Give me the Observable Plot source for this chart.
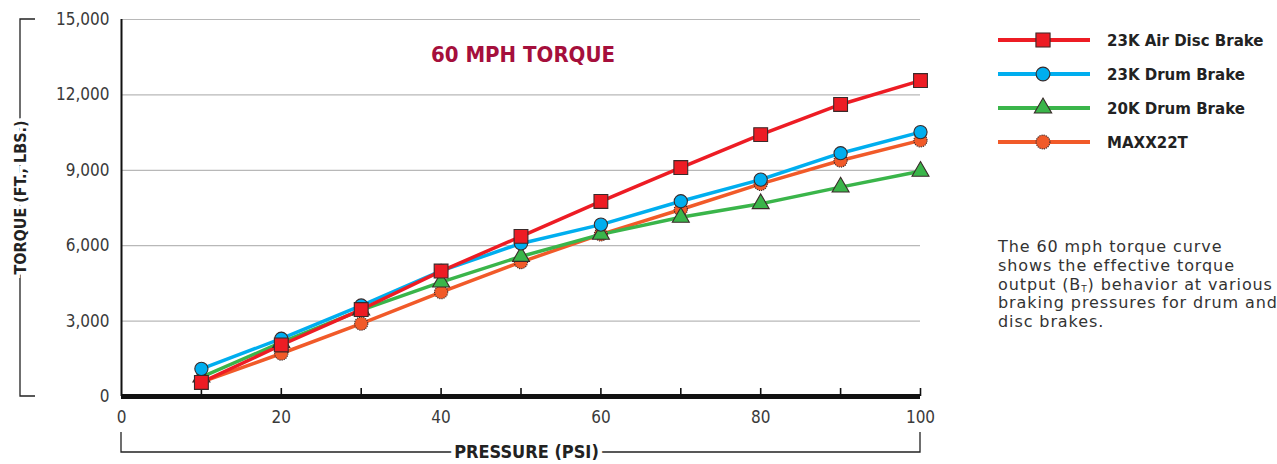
<!DOCTYPE html>
<html>
<head>
<meta charset="utf-8">
<script src="https://cdn.jsdelivr.net/npm/d3@7"></script>
<script src="https://cdn.jsdelivr.net/npm/@observablehq/plot@0.6"></script>
<style>
  html, body { margin: 0; padding: 0; background: #fff; }
  #wrap { position: relative; width: 1277px; height: 464px; overflow: hidden; }
  #chart { position: absolute; left: 0; top: 0; }
  #legend { position: absolute; left: 990px; top: 20px; }
  #note { position: absolute; left: 998px; top: 238px; width: 400px; font-family: "DejaVu Sans", Lato, sans-serif; font-size: 16px; letter-spacing: 0.9px; line-height: 18.8px; color: #333; white-space: nowrap; }
</style>
</head>
<body>
<div id="wrap">
  <div id="chart"></div>
  <div id="legend"></div>
  <div id="note">The 60 mph torque curve<br>shows the effective torque<br>output (B<sub style="font-size:9px;line-height:0;vertical-align:-2px">T</sub>) behavior at various<br>braking pressures for drum and<br>disc brakes.</div>
</div>
<script>
// ---- data ----
const pressure = [10, 20, 30, 40, 50, 60, 70, 80, 90, 100];
const airDisc23K = [560, 2050, 3460, 4990, 6370, 7760, 9110, 10420, 11620, 12570];
const drum23K = [1100, 2300, 3620, 5000, 6090, 6840, 7770, 8630, 9680, 10520];
const drum20K = [770, 2150, 3440, 4550, 5570, 6450, 7130, 7670, 8330, 8960];
const maxx22T = [570, 1710, 2900, 4150, 5350, 6450, 7440, 8460, 9390, 10190];
const seriesNames = ["23K Air Disc Brake", "23K Drum Brake", "20K Drum Brake", "MAXX22T"];
const seriesColors = ["#ed1c24", "#00aeef", "#3ab54a", "#f15a29"];
const seriesSymbols = ["square", "circle", "triangle", "circle"];
const yTicks = [0, 3000, 6000, 9000, 12000, 15000];
const xLabelTicks = [0, 20, 40, 60, 80, 100];
const xMarkTicks = [10, 20, 30, 40, 50, 60, 70, 80, 90, 100];
const title = "60 MPH TORQUE";
const yLabel = "TORQUE (FT., LBS.)";
const xLabel = "PRESSURE (PSI)";

const seriesValues = [airDisc23K, drum23K, drum20K, maxx22T];
const rows = [];
seriesNames.forEach((name, i) => pressure.forEach((p, j) => rows.push({series: name, idx: i, pressure: p, torque: seriesValues[i][j]})));
// draw order: orange, green, blue, red (red on top)
const drawOrder = [3, 2, 1, 0];

const fontCond = '"Liberation Sans Narrow", "DejaVu Sans Condensed", "Liberation Sans", sans-serif';
const symR = {square: 7.8, triangle: 6.3, circle: 6.6};

const marks = [
  Plot.gridY(yTicks.filter(d => d > 0), {stroke: "#b8b8b8", strokeOpacity: 1, strokeWidth: 1.2}),
  Plot.axisY(yTicks, {tickSize: 0, tickPadding: 12, tickFormat: d3.format(","), fontSize: 17, fill: "#3a3a3a", label: null}),
  Plot.axisX(xLabelTicks, {tickSize: 0, tickPadding: 14, fontSize: 17, fill: "#3a3a3a", label: null}),
  Plot.axisX(xMarkTicks, {tickSize: -8, tickFormat: () => "", label: null, stroke: "#111", strokeWidth: 1.6}),
  Plot.ruleX([0], {stroke: "#111", strokeWidth: 2}),
  Plot.ruleY([0], {stroke: "#111", strokeWidth: 5}),
];
for (const i of drawOrder) {
  const data = rows.filter(r => r.idx === i);
  marks.push(Plot.line(data, {x: "pressure", y: "torque", stroke: seriesColors[i], strokeWidth: 3.5}));
}
for (const i of drawOrder) {
  const data = rows.filter(r => r.idx === i);
  const sym = seriesSymbols[i];
  marks.push(Plot.dot(data, {x: "pressure", y: "torque", symbol: () => sym, r: symR[sym], fill: seriesColors[i], stroke: "#3a2a2a", strokeWidth: 1.1,
    strokeDasharray: i === 3 ? "1.2,1" : null}));
}
marks.push(Plot.text([title], {frameAnchor: "top", dy: 27, dx: 2, fontSize: 22, fontWeight: "bold", fill: "#a50f3c", fontFamily: fontCond}));

const chart = Plot.plot({
  width: 960, height: 464,
  marginLeft: 121, marginRight: 40, marginTop: 19, marginBottom: 68,
  style: {fontFamily: fontCond, background: "transparent", overflow: "visible"},
  x: {domain: [0, 100]},
  y: {domain: [0, 15000]},
  marks
});
document.getElementById("chart").appendChild(chart);

// axis title brackets, positioned from the scales
const sx = chart.scale("x"), sy = chart.scale("y");
const svg = d3.select(chart);
const x0 = sx.apply(0), x1 = sx.apply(100), y0 = sy.apply(0), y1 = sy.apply(15000);
const g = svg.append("g").attr("fill", "none").attr("stroke", "#222").attr("stroke-width", 1.3);
const bx = 20;
g.append("path").attr("d", `M${bx + 15},${y1}H${bx}V${y0}H${bx + 15}`);
const by = 452;
g.append("path").attr("d", `M${x0},${by - 20}V${by}H${x1}V${by - 20}`);
const yc = (y0 + y1) / 2 - 10;
svg.append("text").text(yLabel)
  .attr("transform", `translate(${bx},${yc}) rotate(-90)`)
  .attr("text-anchor", "middle").attr("dy", "0.35em")
  .attr("font-family", fontCond).attr("font-weight", "bold").attr("font-size", 16).attr("fill", "#222")
  .attr("stroke", "#fff").attr("stroke-width", 7).attr("paint-order", "stroke");
svg.append("text").text(xLabel)
  .attr("x", (x0 + x1) / 2 + 6).attr("y", by)
  .attr("text-anchor", "middle").attr("dy", "0.35em")
  .attr("font-family", fontCond).attr("font-weight", "bold").attr("font-size", 18).attr("fill", "#222")
  .attr("stroke", "#fff").attr("stroke-width", 9).attr("paint-order", "stroke");

// legend
const lg = d3.select("#legend").append("svg").attr("width", 287).attr("height", 150);
seriesNames.forEach((name, i) => {
  const cy = 20 + i * 34;
  const row = lg.append("g").attr("transform", `translate(0,${cy})`);
  row.append("line").attr("x1", 8).attr("x2", 100).attr("y1", 0).attr("y2", 0).attr("stroke", seriesColors[i]).attr("stroke-width", 4);
  const s = seriesSymbols[i];
  const sym = d3.symbol().type(s === "square" ? d3.symbolSquare : s === "triangle" ? d3.symbolTriangle : d3.symbolCircle)
    .size(s === "square" ? 200 : s === "triangle" ? 130 : 150);
  row.append("path").attr("d", sym()).attr("transform", "translate(53,0)").attr("fill", seriesColors[i]).attr("stroke", "#3a2a2a").attr("stroke-width", 1.1)
    .attr("stroke-dasharray", i === 3 ? "1.2,1" : null);
  row.append("text").text(name).attr("x", 117).attr("dy", "0.36em").attr("font-family", fontCond).attr("font-weight", "bold").attr("font-size", 16.7).attr("fill", "#222");
});
</script>
</body>
</html>
